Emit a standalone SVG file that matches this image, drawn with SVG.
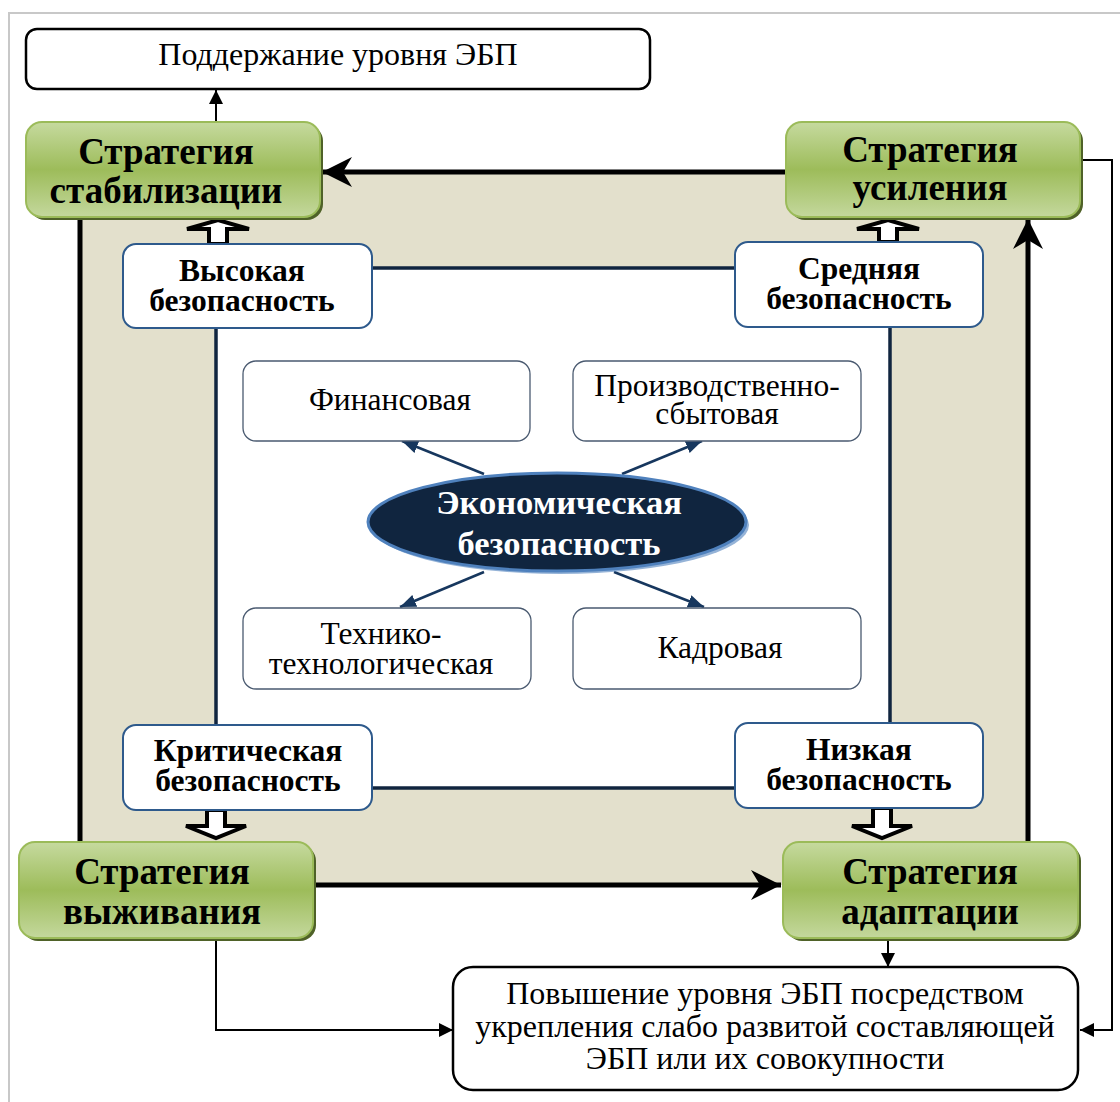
<svg xmlns="http://www.w3.org/2000/svg" width="1120" height="1102" viewBox="0 0 1120 1102">
<style>
.strat{font-family:"Liberation Serif",serif;font-weight:bold;font-size:37px;fill:#000;text-anchor:middle}
.lvl{font-family:"Liberation Serif",serif;font-weight:bold;font-size:31.5px;fill:#000;text-anchor:middle}
.comp{font-family:"Liberation Serif",serif;font-size:31.5px;fill:#000;text-anchor:middle}
.plain{font-family:"Liberation Serif",serif;font-size:32px;fill:#000;text-anchor:middle}
.gbox{fill:url(#green);stroke:#9bbb59;stroke-width:2}
.gshadow{fill:#4f6228}
.bbox{fill:#fff;stroke:#2e5a8c;stroke-width:2}
.cbox{fill:#fff;stroke:#4a5a70;stroke-width:1.3}
.obox{fill:#fff;stroke:#000;stroke-width:2.5}
.thick{stroke:#000;stroke-width:5;fill:none}
.thin{stroke:#000;stroke-width:2;fill:none}
.navy{stroke:#10253f;stroke-width:3.5;fill:none}
.ray{stroke:#17375e;stroke-width:2.5;fill:none}
.block{fill:#fff;stroke:#000;stroke-width:4;stroke-linejoin:miter}
</style>
<defs>
<linearGradient id="green" x1="0" y1="0" x2="0" y2="1">
<stop offset="0" stop-color="#c6da9f"/>
<stop offset="0.5" stop-color="#9dbc5a"/>
<stop offset="1" stop-color="#c4d89d"/>
</linearGradient>
<marker id="tri" viewBox="0 0 10 10" refX="10" refY="5" markerWidth="14" markerHeight="14" orient="auto" markerUnits="userSpaceOnUse">
<path d="M0,0 L10,5 L0,10 z" fill="#000"/>
</marker>
<marker id="stealth" viewBox="0 0 10 10" refX="10" refY="5" markerWidth="30" markerHeight="30" orient="auto" markerUnits="userSpaceOnUse">
<path d="M0,0 L10,5 L0,10 L3,5 z" fill="#000"/>
</marker>
<marker id="navytri" viewBox="0 0 10 10" refX="10" refY="5" markerWidth="16" markerHeight="16" orient="auto" markerUnits="userSpaceOnUse">
<path d="M0,1 L10,5 L0,9 z" fill="#17375e"/>
</marker>
</defs>

<!-- page frame -->
<path d="M9,1102 L9,13 L1120,13" fill="none" stroke="#c8c8c8" stroke-width="2"/>

<!-- beige field and inner white field -->
<rect x="80" y="172" width="948" height="713" fill="#e3e0cc"/>
<rect x="216" y="268" width="674" height="520" fill="#fff"/>

<g id="connectors">
<line class="thick" x1="786" y1="172" x2="322" y2="172" marker-end="url(#stealth)"/>
<line class="thick" x1="80" y1="217" x2="80" y2="842"/>
<line class="thick" x1="313" y1="885" x2="781" y2="885" marker-end="url(#stealth)"/>
<line class="thick" x1="1028" y1="842" x2="1028" y2="219" marker-end="url(#stealth)"/>
<line class="navy" x1="216" y1="328" x2="216" y2="725"/>
<line class="navy" x1="372" y1="268" x2="735" y2="268"/>
<line class="navy" x1="890" y1="327" x2="890" y2="723"/>
<line class="navy" x1="372" y1="788" x2="735" y2="788"/>
<line class="thin" x1="216" y1="122" x2="216" y2="90" marker-end="url(#tri)"/>
<polyline class="thin" points="1080,160 1112,160 1112,1030 1080,1030" marker-end="url(#tri)"/>
<polyline class="thin" points="216,938 216,1030 453,1030" marker-end="url(#tri)"/>
<line class="thin" x1="888" y1="938" x2="888" y2="967" marker-end="url(#tri)"/>
<line class="ray" x1="484" y1="474" x2="402" y2="441" marker-end="url(#navytri)"/>
<line class="ray" x1="622" y1="474" x2="702" y2="441" marker-end="url(#navytri)"/>
<line class="ray" x1="484" y1="572" x2="400" y2="607" marker-end="url(#navytri)"/>
<line class="ray" x1="614" y1="572" x2="704" y2="607" marker-end="url(#navytri)"/>
<polygon class="block" points="209,244 209,229 187,229 218,220 249,229 227,229 227,244"/>
<polygon class="block" points="879,242 879,229 857,229 888,220 919,229 897,229 897,242"/>
<polygon class="block" points="207,810 207,826 186,826 216,838 246,826 225,826 225,810"/>
<polygon class="block" points="873,808 873,826 852,826 882,838 912,826 891,826 891,808"/>
</g>

<g id="node-support">
<rect class="obox" x="26" y="29" width="624" height="60" rx="11"/>
<text class="plain" x="338" y="65">Поддержание уровня ЭБП</text>
</g>

<g id="node-stab">
<rect class="gshadow" x="29" y="125" width="294" height="95" rx="16"/>
<rect class="gbox" x="26" y="122" width="294" height="95" rx="16"/>
<text class="strat" x="166" y="164">Стратегия</text>
<text class="strat" x="166" y="203">стабилизации</text>
</g>

<g id="node-usil">
<rect class="gshadow" x="789" y="125" width="294" height="95" rx="16"/>
<rect class="gbox" x="786" y="122" width="294" height="95" rx="16"/>
<text class="strat" x="930" y="162">Стратегия</text>
<text class="strat" x="930" y="200">усиления</text>
</g>

<g id="node-vyzh">
<rect class="gshadow" x="22" y="845" width="294" height="96" rx="16"/>
<rect class="gbox" x="19" y="842" width="294" height="96" rx="16"/>
<text class="strat" x="162" y="884">Стратегия</text>
<text class="strat" x="162" y="924">выживания</text>
</g>

<g id="node-adapt">
<rect class="gshadow" x="786" y="845" width="295" height="96" rx="16"/>
<rect class="gbox" x="783" y="842" width="295" height="96" rx="16"/>
<text class="strat" x="930" y="884">Стратегия</text>
<text class="strat" x="930" y="924">адаптации</text>
</g>

<g id="node-high">
<rect class="bbox" x="123" y="244" width="249" height="84" rx="13"/>
<text class="lvl" x="242" y="281">Высокая</text>
<text class="lvl" x="242" y="311">безопасность</text>
</g>

<g id="node-mid">
<rect class="bbox" x="735" y="242" width="248" height="85" rx="13"/>
<text class="lvl" x="859" y="279">Средняя</text>
<text class="lvl" x="859" y="309">безопасность</text>
</g>

<g id="node-crit">
<rect class="bbox" x="123" y="725" width="249" height="85" rx="13"/>
<text class="lvl" x="248" y="761">Критическая</text>
<text class="lvl" x="248" y="791">безопасность</text>
</g>

<g id="node-low">
<rect class="bbox" x="735" y="723" width="248" height="85" rx="13"/>
<text class="lvl" x="859" y="760">Низкая</text>
<text class="lvl" x="859" y="790">безопасность</text>
</g>

<g id="node-fin">
<rect class="cbox" x="243" y="361" width="287" height="80" rx="13"/>
<text class="comp" x="390" y="410">Финансовая</text>
</g>

<g id="node-prod">
<rect class="cbox" x="573" y="361" width="288" height="80" rx="13"/>
<text class="comp" x="717" y="396">Производственно-</text>
<text class="comp" x="717" y="424">сбытовая</text>
</g>

<g id="node-tech">
<rect class="cbox" x="243" y="608" width="288" height="81" rx="13"/>
<text class="comp" x="381" y="644">Технико-</text>
<text class="comp" x="381" y="674">технологическая</text>
</g>

<g id="node-kadr">
<rect class="cbox" x="573" y="608" width="288" height="81" rx="13"/>
<text class="comp" x="720" y="658">Кадровая</text>
</g>

<g id="node-eb">
<ellipse cx="560" cy="525" rx="189" ry="49" fill="#4f81bd" opacity="0.6"/>
<ellipse cx="557" cy="522" rx="189" ry="49" fill="#10253f" stroke="#4f81bd" stroke-width="3"/>
<text x="559" y="514" font-family="Liberation Serif, serif" font-weight="bold" font-size="34.5" fill="#fff" text-anchor="middle">Экономическая</text>
<text x="559" y="555" font-family="Liberation Serif, serif" font-weight="bold" font-size="34.5" fill="#fff" text-anchor="middle">безопасность</text>
</g>

<g id="node-raise">
<rect class="obox" x="453" y="967" width="625" height="123" rx="20"/>
<text class="plain" x="765" y="1004">Повышение уровня ЭБП посредством</text>
<text class="plain" x="765" y="1037">укрепления слабо развитой составляющей</text>
<text class="plain" x="765" y="1069">ЭБП или их совокупности</text>
</g>
</svg>
